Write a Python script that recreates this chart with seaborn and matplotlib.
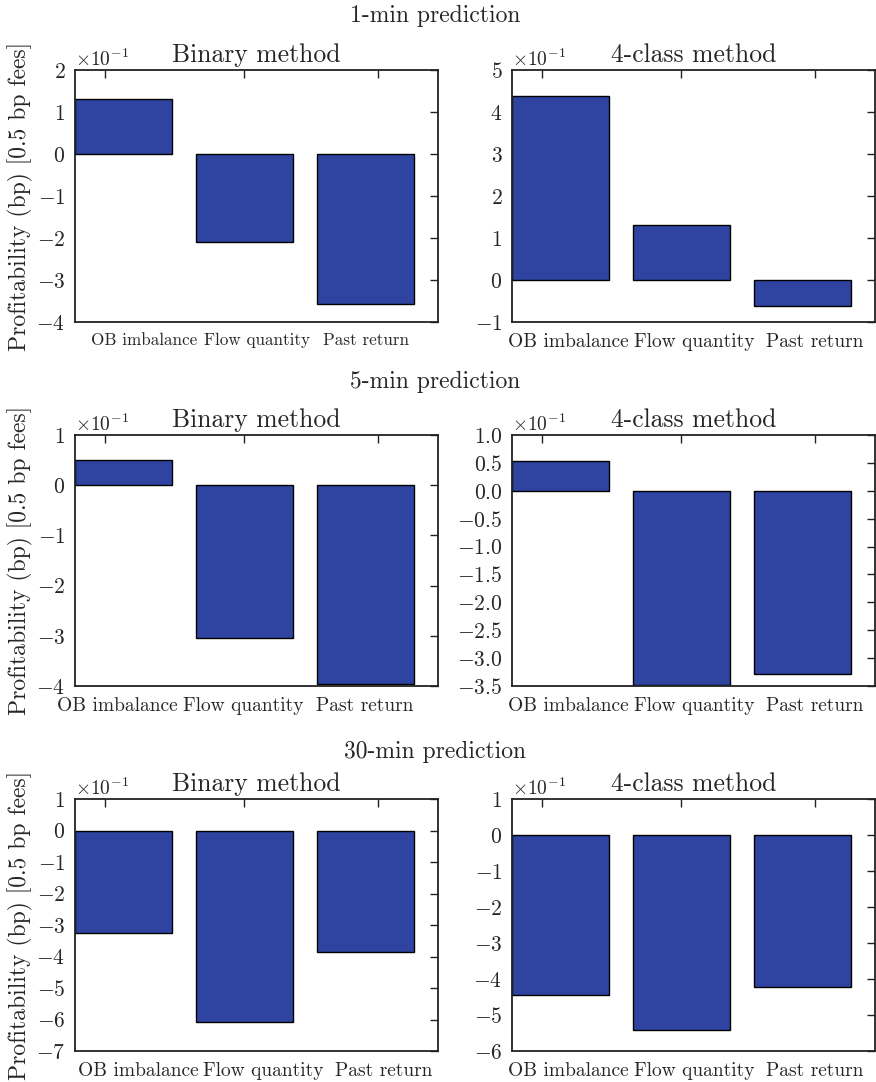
import numpy as np
import pandas as pd
import seaborn as sns
import matplotlib
matplotlib.use("Agg")
import matplotlib.pyplot as plt
from matplotlib import ticker

# Profitability values (bp, 0.5 bp fees) for each feature set
features = ["OB imbalance", "Flow quantity", "Past return"]
binary_1min = [0.131, -0.209, -0.357]
fourclass_1min = [0.438, 0.131, -0.062]
binary_5min = [0.050, -0.305, -0.397]
fourclass_5min = [0.054, -0.348, -0.328]
binary_30min = [-0.325, -0.607, -0.386]
fourclass_30min = [-0.444, -0.543, -0.423]

horizons = ["1-min prediction", "5-min prediction", "30-min prediction"]
methods = ["Binary method", "4-class method"]

sns.set_theme(style="white")
plt.rcParams["font.family"] = ["cmr10", "DejaVu Serif"]
plt.rcParams["mathtext.fontset"] = "cm"
plt.rcParams["axes.formatter.use_mathtext"] = True
plt.rcParams["axes.unicode_minus"] = True

BAR_COLOR = "#2E44A0"

fig = plt.figure(figsize=(8.76, 10.82), dpi=100)
W, H = 876.0, 1082.0

# panel boxes in pixels: (left, top, right, bottom)
col_x = [(75, 438), (512, 875)]
row_y = [(70, 322), (435, 686), (799, 1051)]

panels = [
    [binary_1min, fourclass_1min],
    [binary_5min, fourclass_5min],
    [binary_30min, fourclass_30min],
]
ylims = [[(-0.4, 0.2), (-0.1, 0.5)],
         [(-0.4, 0.1), (-0.35, 0.1)],
         [(-0.7, 0.1), (-0.6, 0.1)]]
ysteps = [[0.1, 0.1], [0.1, 0.05], [0.1, 0.1]]
# category label centres (offset slightly from the tick marks)
label_pos = [[(0.17, 1.103, 2.003), (0.063, 1.103, 2.103)],
             [(-0.047, 0.993, 1.993), (0.063, 1.103, 2.103)],
             [(0.123, 1.153, 2.153), (0.063, 1.103, 2.103)]]
label_size = [[12.3, 14], [14, 14], [14, 14]]
row_title_y = [16, 382, 752]

for r in range(3):
    fig.text(0.497, 1 - row_title_y[r] / H, horizons[r], ha="center",
             va="center", fontsize=17)
    for c in range(2):
        x0, x1 = col_x[c]
        t, b = row_y[r]
        ax = fig.add_axes([x0 / W, 1 - b / H, (x1 - x0) / W, (b - t) / H])
        df = pd.DataFrame({"feature": features, "profit": panels[r][c]})
        sns.barplot(data=df, x="feature", y="profit", color=BAR_COLOR,
                    saturation=1, width=0.8, edgecolor="black",
                    linewidth=1.0, ax=ax)
        ax.set_xlim(-0.4, 2.6)
        ax.set_ylim(*ylims[r][c])
        ax.yaxis.set_major_locator(ticker.MultipleLocator(ysteps[r][c]))
        fmt = ticker.ScalarFormatter(useMathText=True)
        fmt.set_powerlimits((0, 0))
        ax.yaxis.set_major_formatter(fmt)
        ax.yaxis.get_offset_text().set_fontsize(14)

        # tick marks and category labels
        ax.set_xticks([-0.15, 1.0, 2.1])
        ax.set_xticklabels([])
        ax.set_xticks(label_pos[r][c], minor=True)
        ax.set_xticklabels(features, minor=True, fontsize=label_size[r][c])
        ax.tick_params(axis="x", which="minor", length=0, pad=8)
        ax.tick_params(axis="both", which="major", direction="in", length=6,
                       width=1, top=True, right=True, labelsize=15.5,
                       color="#222222")
        ax.tick_params(axis="y", pad=7)

        for s in ax.spines.values():
            s.set_visible(True)
            s.set_color("#222222")
            s.set_linewidth(1.3)

        ax.set_xlabel("")
        ax.set_title(methods[c], fontsize=18.5, pad=6)
        if c == 0:
            ax.set_ylabel("Profitability (bp) [0.5 bp fees]", fontsize=17)
            ax.yaxis.set_label_coords(-0.116, 0.5)
        else:
            ax.set_ylabel("")

fig.savefig("out.png", dpi=100)
